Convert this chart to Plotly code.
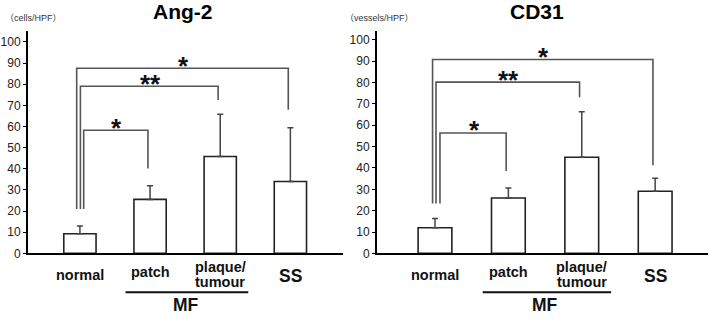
import plotly.graph_objects as go

W, H = 710, 321
FONT = "Liberation Sans, Arial, sans-serif"

categories = ["normal", "patch", "plaque/tumour", "SS"]

ang2_mean = [9.3, 25.5, 45.8, 34.0]
ang2_err = [3.6, 6.5, 20.0, 25.4]
cd31_mean = [12.0, 25.9, 45.0, 29.1]
cd31_err = [4.3, 4.7, 21.3, 6.1]

titles = ["Ang-2", "CD31"]
units = ["（cells/HPF）", "（vessels/HPF）"]
y_ticks = list(range(0, 101, 10))

# significance brackets: (target category index, bracket height, right-leg bottom, left-leg x offset, label)
ang2_sig = [(1, 58.2, 40.1, 0.054, "*"), (2, 79.0, 72.5, 0.007, "**"), (3, 87.5, 67.9, -0.046, "*")]
cd31_sig = [(1, 56.4, 38.6, 0.068, "*"), (2, 80.2, 73.1, 0.014, "**"), (3, 90.8, 41.3, -0.033, "*")]
ang2_leg_bottom = 21.0
cd31_leg_bottom = 23.3
mf_span = [0.65, 2.4]

panels = [
    dict(mean=ang2_mean, err=ang2_err, sig=ang2_sig, leg=ang2_leg_bottom,
         xd=[28 / W, 343 / W], xr=[-0.74, 3.75], yr=[0, 105], title_x=183, unit_x=3),
    dict(mean=cd31_mean, err=cd31_err, sig=cd31_sig, leg=cd31_leg_bottom,
         xd=[377 / W, 708 / W], xr=[-0.79, 3.72], yr=[0, 104], title_x=537, unit_x=343),
]

def py(p):
    return (H - p) / H

fig = go.Figure()
annotations = []
shapes = []
ydom = [py(259), py(32)]
line_col = "#555555"

for i, p in enumerate(panels):
    xa = "x" if i == 0 else "x2"
    ya = "y" if i == 0 else "y2"
    fig.add_trace(go.Bar(
        x=categories, y=p["mean"], xaxis=xa, yaxis=ya, width=0.46,
        marker=dict(color="white", line=dict(color="#222222", width=1.6)),
        error_y=dict(type="data", array=p["err"], arrayminus=[0] * 4, symmetric=False,
                     color="#444444", thickness=1.5, width=3),
        showlegend=False, hoverinfo="skip",
    ))
    key = "" if i == 0 else "2"
    fig.layout["xaxis" + key] = dict(
        domain=p["xd"], range=p["xr"], anchor=ya, showticklabels=False, ticks="",
        showline=True, linecolor="black", linewidth=2, showgrid=False, zeroline=False,
        fixedrange=True, type="category",
    )
    fig.layout["yaxis" + key] = dict(
        domain=ydom, range=p["yr"], anchor=xa, tickvals=y_ticks, ticks="outside",
        ticklen=3, tickwidth=1, tickcolor="black", showline=True, linecolor="black",
        linewidth=2, showgrid=False, zeroline=False,
        tickfont=dict(family=FONT, size=12, color="#222222"),
    )
    xref = "x" if i == 0 else "x2"
    yref = "y" if i == 0 else "y2"
    # brackets
    for (tgt, h, rb, lx, lab) in p["sig"]:
        shapes.append(dict(type="path", xref=xref, yref=yref,
                           path=f"M {lx},{p['leg']} L {lx},{h} L {tgt - 0.03},{h} L {tgt - 0.03},{rb}",
                           line=dict(color=line_col, width=1.6)))
        annotations.append(dict(xref=xref, yref=yref, x=(lx + tgt) / 2, y=h,
                                text=f"<b>{lab}</b>", showarrow=False, yanchor="middle", yshift=2.5,
                                font=dict(family=FONT, size=26, color="#111111")))
    # category labels
    lab_specs = [
        (0, "normal", 281, 14.5),
        (1, "patch", 278.5, 14.5),
        (2, "plaque/", 273.3, 14.5),
        (2, "tumour", 288, 14.5),
        (3, "SS", 281.7, 17.5),
    ]
    for (ci, txt, ypix, fs) in lab_specs:
        annotations.append(dict(xref=xref, yref="paper", x=ci, y=py(ypix), text=f"<b>{txt}</b>",
                                showarrow=False, yanchor="middle", xanchor="center",
                                font=dict(family=FONT, size=fs, color="#111111")))
    shapes.append(dict(type="line", xref=xref, yref="paper", x0=mf_span[0], x1=mf_span[1],
                       y0=py(298.8), y1=py(298.8), line=dict(color="#111111", width=2)))
    annotations.append(dict(xref=xref, yref="paper", x=(mf_span[0] + mf_span[1]) / 2 - 0.02,
                            y=py(311.5), text="<b>MF</b>", showarrow=False, yanchor="middle",
                            font=dict(family=FONT, size=17.5, color="#111111")))
    # title and unit
    annotations.append(dict(xref="paper", yref="paper", x=p["title_x"] / W, y=py(11.5),
                            text=f"<b>{titles[i]}</b>", showarrow=False, yanchor="middle",
                            xanchor="center", font=dict(family=FONT, size=21, color="black")))
    annotations.append(dict(xref="paper", yref="paper", x=p["unit_x"] / W, y=py(18.5),
                            text=units[i], showarrow=False, yanchor="middle", xanchor="left",
                            font=dict(family="Liberation Sans, Noto Sans CJK JP", size=9, color="#333333")))

fig.update_layout(
    width=W, height=H, margin=dict(l=0, r=0, t=0, b=0),
    paper_bgcolor="white", plot_bgcolor="white",
    annotations=annotations, shapes=shapes, bargap=0.5,
)

fig.write_html("out.html")
